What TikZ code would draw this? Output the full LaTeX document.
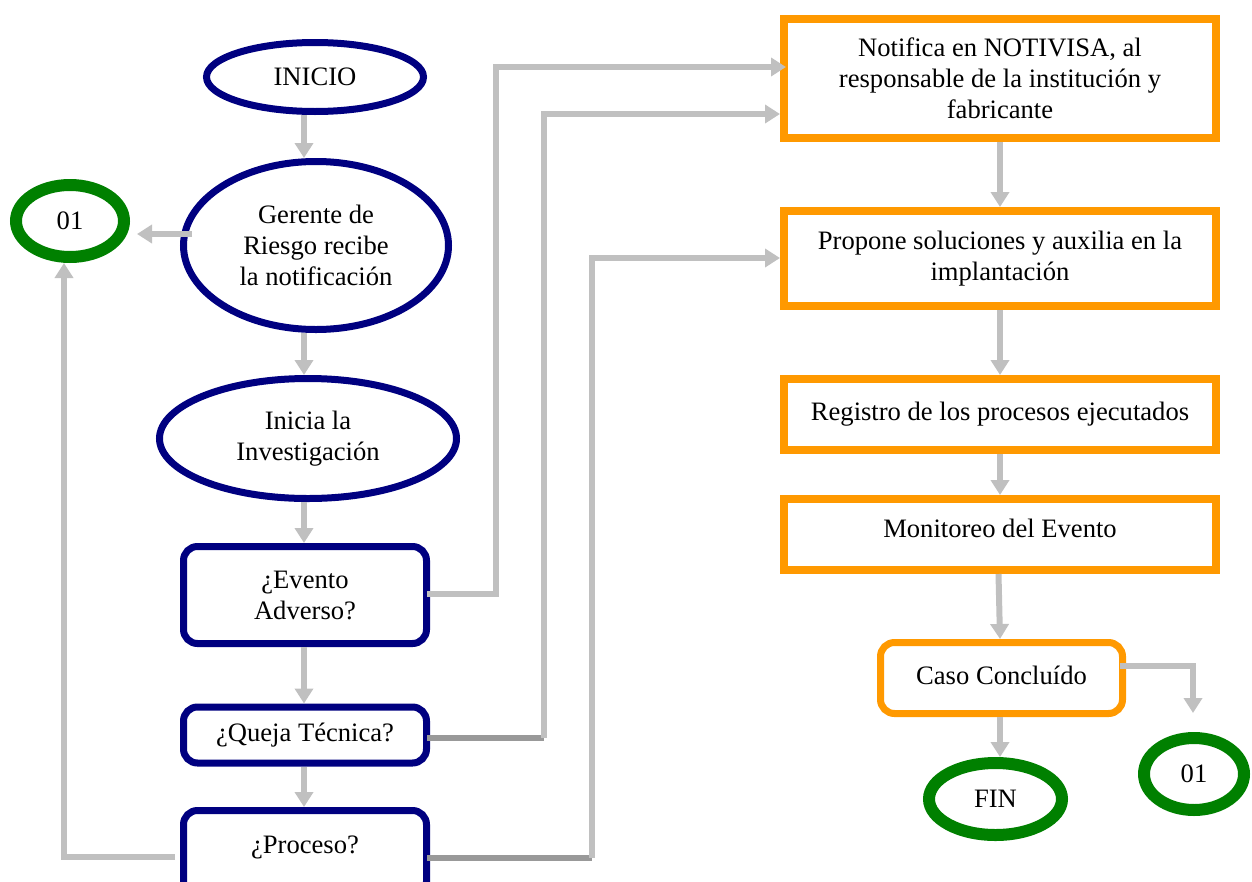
\documentclass[tikz,border=0pt]{standalone}
\usepackage{fontspec}
\setmainfont{Liberation Serif}
\usetikzlibrary{arrows.meta,shapes.geometric}
\definecolor{navyc}{HTML}{000080}
\definecolor{orangec}{HTML}{FF9900}
\definecolor{greenc}{HTML}{008000}
\definecolor{grayc}{HTML}{C0C0C0}
\definecolor{dgrayc}{HTML}{999999}
\begin{document}
\begin{tikzpicture}[x=1pt,y=-1pt,
  txt/.style={font=\fontsize{26.6}{31}\selectfont, align=center, inner sep=0pt, text=black},
  navyell/.style={txt, ellipse, draw=navyc, line width=7pt},
  navybox/.style={txt, rectangle, rounded corners=14pt, draw=navyc, line width=7pt},
  orbox/.style={txt, rectangle, draw=orangec, line width=8pt, minimum width=432pt},
  orrbox/.style={txt, rectangle, rounded corners=14pt, draw=orangec, line width=7pt},
  grell/.style={txt, ellipse, draw=greenc, line width=12pt},
  arr/.style={draw=grayc, line width=6pt, -{Triangle[width=18pt,length=15pt]}},
  ln/.style={draw=grayc, line width=6pt},
  dk/.style={draw=dgrayc, line width=6pt}]
\useasboundingbox (0,0) rectangle (1252,881);
\clip (0,0) rectangle (1252,881);

% left column
\node[navyell, minimum width=217pt, minimum height=69pt] (inicio) at (315,77) {INICIO};
\node[navyell, minimum width=265pt, minimum height=168pt] (gerente) at (316,245.5) {Gerente de\\Riesgo recibe\\la notificación};
\node[navyell, minimum width=297pt, minimum height=120pt] (inicia) at (308,438.5) {Inicia la\\Investigación};
\node[navybox, minimum width=243pt, minimum height=97pt] (evento) at (305,595) {¿Evento\\Adverso?};
\node[navybox, minimum width=243pt, minimum height=56pt] (queja) at (305,735) {¿Queja Técnica?};
\node[navybox, minimum width=243pt, minimum height=85pt] (proceso) at (305,853) {\raisebox{16pt}{¿Proceso?}};
\node[grell, minimum width=108pt, minimum height=72pt] (uno) at (70,221) {01};

% right column
\node[orbox, minimum height=119pt] (notifica) at (1000,78.5) {Notifica en NOTIVISA, al\\responsable de la institución y\\fabricante};
\node[orbox, minimum height=95pt] (propone) at (1000,258.5) {Propone soluciones y auxilia en la\\implantación};
\node[orbox, minimum height=71pt] (registro) at (1000,414.5) {\raisebox{6pt}{Registro de los procesos ejecutados}};
\node[orbox, minimum height=71pt] (monitoreo) at (1000,534.5) {\raisebox{12pt}{Monitoreo del Evento}};
\node[orrbox, minimum width=242pt, minimum height=71pt] (caso) at (1001.5,678) {\raisebox{6pt}{Caso Concluído}};
\node[grell, minimum width=133pt, minimum height=72pt] (fin) at (995.5,799) {FIN};
\node[grell, minimum width=100pt, minimum height=72pt] (unob) at (1194,774) {01};

% coordinates
\coordinate (c1) at (496,67);
\coordinate (c2b) at (544,738);
\coordinate (c2) at (544,114);
\coordinate (c3b) at (592,858);
\coordinate (c3) at (592,258);
\coordinate (c4b) at (64,857);
\coordinate (c5) at (1193,713);

% left column connectors
\draw[arr] ([xshift=-11pt]inicio.south) -- ([xshift=-12pt]gerente.north);
\draw[arr] ([xshift=-12pt]gerente.south) -- ([xshift=-4pt]inicia.north);
\draw[arr] ([xshift=-4pt]inicia.south) -- ([xshift=-1pt]evento.north);
\draw[arr] ([xshift=-1pt]evento.south) -- ([xshift=-1pt]queja.north);
\draw[arr] ([xshift=-1pt]queja.south) -- ([xshift=-1pt]proceso.north);
\draw[arr] ([shift={(12pt,11.5pt)}]gerente.west) -- ([shift={(7pt,-13pt)}]uno.east);

% to right column
\draw[arr] ([shift={(-3pt,1pt)}]evento.east) -| (c1) -- ([xshift=6pt]c1 -| notifica.west);
\draw[dk] ([xshift=-3pt]queja.east |- c2b) -- (c2b);
\draw[arr] (c2b) -- (c2) -- (c2 -| notifica.west);
\draw[dk] ([xshift=-3pt]proceso.east |- c3b) -- (c3b);
\draw[arr] (c3b) -- (c3) -- (c3 -| propone.west);
\draw[arr] ([xshift=-5pt]proceso.west |- c4b) -- (c4b) -- (c4b |- uno.south);

% right column connectors
\draw[arr] (notifica.south) -- (propone.north);
\draw[arr] (propone.south) -- (registro.north);
\draw[arr] (registro.south) -- (monitoreo.north);
\draw[arr] ([xshift=-1.5pt]monitoreo.south) -- ([xshift=-1.5pt]caso.north);
\draw[arr] ([xshift=-1.5pt]caso.south) -- ([xshift=4.5pt]fin.north);
\draw[arr] ([shift={(-6pt,12pt)}]caso.east) -| (c5);
\end{tikzpicture}
\end{document}
